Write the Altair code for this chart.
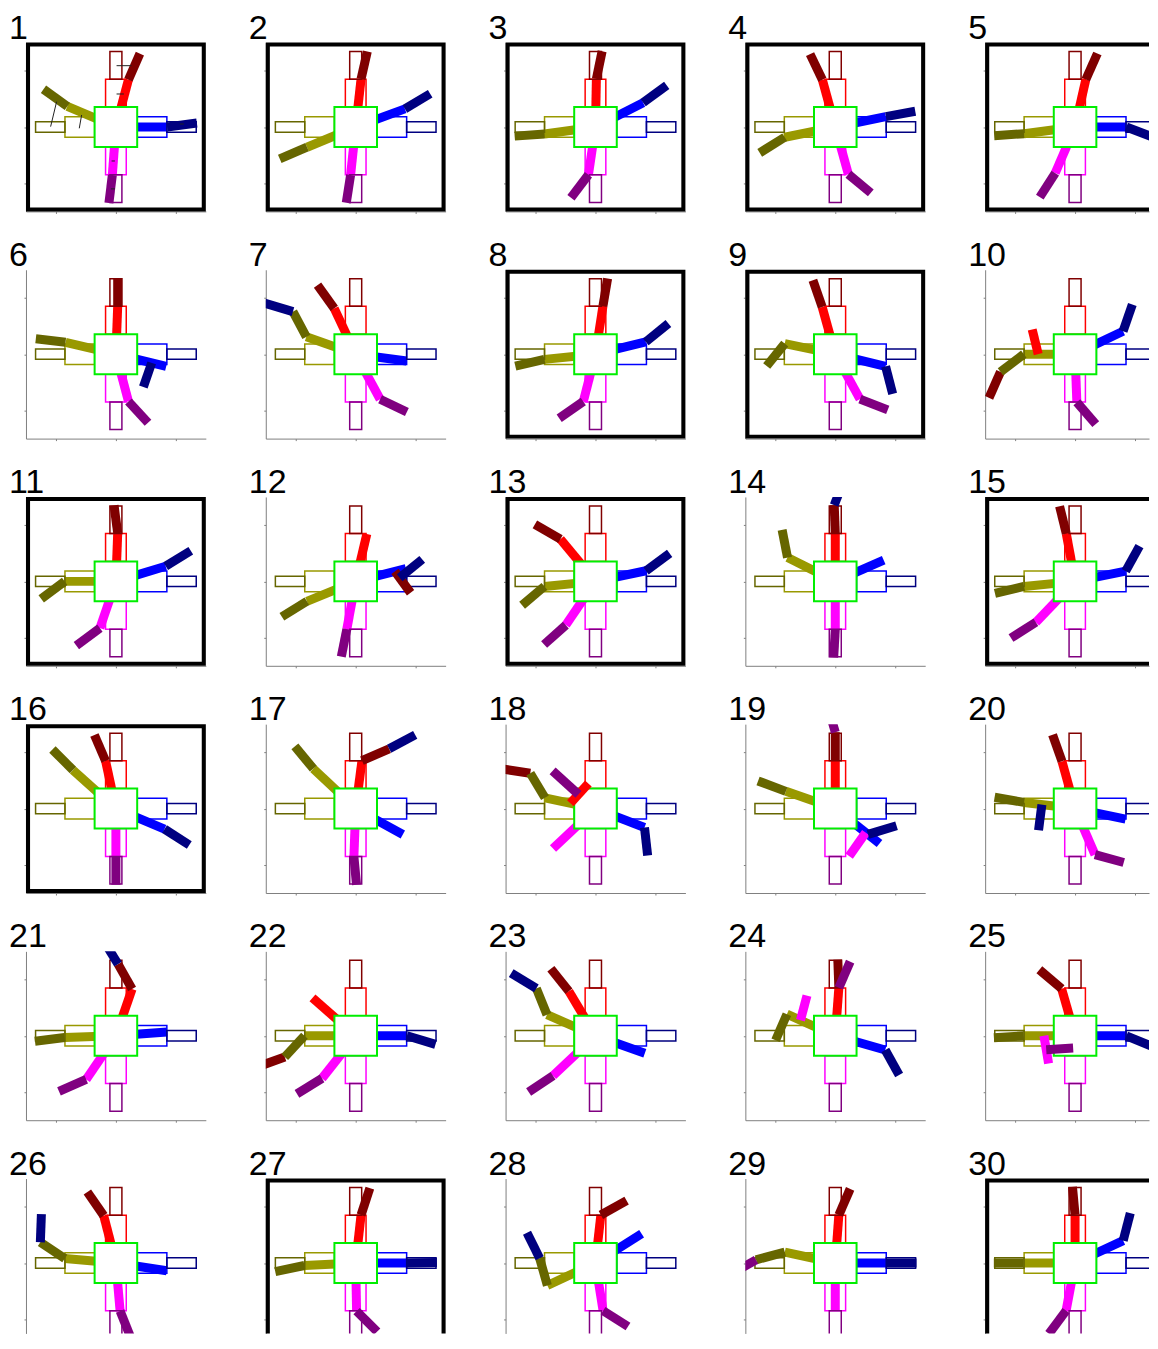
import math
import altair as alt
import pandas as pd

PANELS = list(range(1, 31))
FRAMED = [1, 2, 3, 4, 5, 8, 9, 11, 13, 15, 16, 27, 30]

# Segment angles in degrees (0 = right, 90 = up), one value per panel 1..30
RED_INNER = [76, 84, 89, 104.4, 78, 88, 113.8, 81.7, 104.6, 102.8,
             88, 77.6, 128, 90, 99.8, 101.5, 83, 49.4, 90, 104.6,
             72, 137, 119.3, 86, 105, 103.6, 84, 84, 86, 90]
RED_OUTER = [67.6, 78, 79, 114.2, 67.3, 90, 123.8, 81, 108, 247.5,
             97, -55.4, 148.4, 92, 102.9, 111.9, 25, 170.7, 90, 108.3,
             117.9, 201, 126.9, 92, 137.9, 123, 73, 30.8, 67.9, 95]
BLUE_INNER = [0, 21.4, 28.5, 12.3, 0, -14.5, -8.2, 14.6, -14.6, 26.9,
              18, 15.1, 12.6, 25.1, 12.2, -24.2, -30.4, -22.3, -40, -12.6,
              4.5, 0, -20.6, -16.9, 0, -9.3, 0, 34, 0, 26.4]
BLUE_OUTER = [8, 32.5, 38, 11, -22, -108, 162.3, 41, -76.3, 72,
              33.2, 41, 38, 70, 62.5, -34.3, 29.6, -84, 18, -97,
              120, -17.7, 147, -62.4, -23.8, 88, 1, 115, 0, 76.3]
MAGENTA_INNER = [-94, -95.7, -97.9, -75.4, -112, -76, -63, -103.6, -62.7, -88,
                 -107.8, -99.9, -122.5, -90, -132, -90, -92, -135, -123.5, -67.9,
                 -122.6, -126.6, -135, 76, -81, -85.3, -89, -81.5, -90, -100]
MAGENTA_OUTER = [-96.5, -98.3, -125.6, -41.6, -121, -49.3, -26.9, -143.5, -22.3, -50.9,
                 -141.8, -100.6, -136.4, -93, -146, -90, -85, 136, 105, -16.3,
                 -155, -146.7, -144.4, 67.9, 4, -69.4, -46.7, -33.8, 210.7, -124.9]
OLIVE_INNER = [155.6, 203.9, 188.3, 192.2, 188, 165.9, 159.4, 186.2, 167.4, 180,
               180, 203.5, 186, 152, 186, 136.3, 134.9, 167.2, 159.6, 172.7,
               182, 180, 155.2, 154.6, 180, 174.7, 183, 206.5, 167, 180]
OLIVE_OUTER = [142.7, 204.6, 184.4, 213.6, 184, 172.8, 116.6, 194, 233, 218.9,
               218.6, 213.3, 222, 100.4, 194.5, 133.2, 128, 119.4, 158.3, 169.3,
               187.6, 229, 110.8, 247.8, 184, 144.6, 192.7, 104.9, 196.2, 180]

# Segments hanging somewhere else than on their own limb:
# (panel, segment) -> (parent segment, fraction along parent, length)
ATTACH = {
    (6, 'B2'): ('B1', 0.5, 0.45),
    (7, 'B2'): ('O2', 1.0, 0.5),
    (10, 'R1'): ('O1', 0.52, 0.45),
    (10, 'R2'): ('O2', 1.0, 0.5),
    (12, 'R2'): ('B1', 0.62, 0.46),
    (12, 'B2'): ('R2', 0.3, 0.5),
    (14, 'B2'): ('R2', 1.0, 0.5),
    (17, 'B2'): ('R2', 1.0, 0.5),
    (18, 'R1'): ('O1', 0.13, 0.46),
    (18, 'R2'): ('O2', 1.0, 0.5),
    (18, 'M2'): ('R1', 0.45, 0.6),
    (19, 'B2'): ('B1', 0.5, 0.5),
    (19, 'M1'): ('B1', 0.4, 0.5),
    (19, 'M2'): ('R2', 1.0, 0.5),
    (20, 'B2'): ('O1', 0.4, 0.46),
    (21, 'B2'): ('R2', 1.0, 0.5),
    (22, 'R2'): ('O2', 1.0, 0.5),
    (23, 'B2'): ('O2', 1.0, 0.5),
    (24, 'M1'): ('O1', 0.5, 0.45),
    (24, 'M2'): ('R1', 1.0, 0.5),
    (25, 'M1'): ('O1', 0.33, 0.5),
    (25, 'M2'): ('M1', 0.5, 0.45),
    (26, 'B2'): ('O2', 1.0, 0.5),
    (28, 'B2'): ('O2', 1.0, 0.5),
    (29, 'M2'): ('O2', 1.0, 0.5),
}

# thin black marks seen in panel 1: (x1, y1, x2, y2)
PANEL1_MARKS = [(-1.089, 0.006, -0.989, 0.45), (-0.611, -0.024, -0.572, 0.213),
                (0.011, 0.586, 0.133, 0.586), (0.011, 1.089, 0.261, 1.089),
                (-0.072, -0.604, -0.017, -0.604), (-0.083, -1.1, -0.017, -1.1),
                (1.067, 0.053, 1.133, 0.053)]

ANGLES = {'R1': RED_INNER, 'R2': RED_OUTER, 'B1': BLUE_INNER, 'B2': BLUE_OUTER,
          'M1': MAGENTA_INNER, 'M2': MAGENTA_OUTER, 'O1': OLIVE_INNER, 'O2': OLIVE_OUTER}
SEGS = ['R1', 'R2', 'O1', 'O2', 'M1', 'M2', 'B1', 'B2']
SEG_COLOR = {'R1': '#ff0000', 'R2': '#800000', 'B1': '#0000ff', 'B2': '#000080',
             'M1': '#ff00ff', 'M2': '#800080', 'O1': '#999900', 'O2': '#666600'}

HALF = 0.355      # half side of the body square
SEG = 0.5         # segment length
MID, TIP = 0.85, 1.34
VIN, HIN = 0.1725, 0.183
VOUT, HOUT = 0.1, 0.092
FR = 1.472

REST = [
    ('#ff0000', -VIN, VIN, HALF, MID), ('#800000', -VOUT, VOUT, MID, TIP),
    ('#0000ff', HALF, MID, -HIN, HIN), ('#000080', MID, TIP, -HOUT, HOUT),
    ('#ff00ff', -VIN, VIN, -MID, -HALF), ('#800080', -VOUT, VOUT, -TIP, -MID),
    ('#999900', -MID, -HALF, -HIN, HIN), ('#666600', -TIP, -MID, -HOUT, HOUT),
]


def geometry(p):
    cache = {}

    def g(name):
        if name in cache:
            return cache[name]
        a = math.radians(ANGLES[name][p - 1])
        c, s = math.cos(a), math.sin(a)
        default_parent = 'c' if name[1] == '1' else name[0] + '1'
        parent, t, length = ATTACH.get((p, name), (default_parent, 1.0, SEG))
        if parent == 'c':
            r0 = HALF / max(abs(c), abs(s))
            start = (r0 * c, r0 * s)
            dstart = (0.0, 0.0)
            over = False
        else:
            ps, pe = g(parent)[:2]
            start = (ps[0] + t * (pe[0] - ps[0]), ps[1] + t * (pe[1] - ps[1]))
            dstart = start
            over = True
        end = (start[0] + length * c, start[1] + length * s)
        cache[name] = (start, end, dstart, over)
        return cache[name]

    return {n: g(n) for n in SEGS}


rows = []
for p in PANELS:
    geo = geometry(p)
    for n in SEGS:
        start, end, dstart, over = geo[n]
        rows.append(dict(panel=p, kind='over' if over else 'under', x=dstart[0], y=dstart[1],
                         x2=end[0], y2=end[1], color=SEG_COLOR[n]))
    for col, x1, x2, y1, y2 in REST:
        rows.append(dict(panel=p, kind='rest', x=x1, x2=x2, y=y1, y2=y2, color=col))
    rows.append(dict(panel=p, kind='square', x=-HALF, x2=HALF, y=-HALF, y2=HALF))
    if p in FRAMED:
        rows.append(dict(panel=p, kind='frame', x=-FR, x2=FR, y=-FR, y2=FR))
    rows.append(dict(panel=p, kind='label', label=str(p)))
for x1, y1, x2, y2 in PANEL1_MARKS:
    rows.append(dict(panel=1, kind='thin', x=x1, y=y1, x2=x2, y2=y2))

df = pd.DataFrame(rows)

PXX = 60.0            # pixels per unit, x
PXY = 169.0 / 3.0     # pixels per unit, y
W, H = 180, 169
W_LAST, H_LAST = 164, 155   # the picture cuts the last column and the last row


def panel_chart(p):
    r, c = divmod(p - 1, 5)
    w = W if c < 4 else W_LAST
    h = H if r < 5 else H_LAST
    xs = alt.Scale(domain=[-1.5, -1.5 + w / PXX], nice=False, zero=False)
    ys = alt.Scale(domain=[1.5 - h / PXY, 1.5], nice=False, zero=False)
    ax = alt.Axis(values=[-1, 0, 1], labels=False, title=None, grid=False, tickSize=2,
                  domainColor='#808080', tickColor='#808080', domainWidth=1, tickWidth=1)
    X = alt.X('x:Q', scale=xs, axis=ax if r < 5 else None)
    Y = alt.Y('y:Q', scale=ys, axis=ax)
    X2 = alt.X2('x2:Q')
    Y2 = alt.Y2('y2:Q')
    COLOR = alt.Color('color:N', scale=None)
    base = alt.Chart()
    under = base.mark_rule(strokeWidth=9, clip=True).encode(x=X, y=Y, x2=X2, y2=Y2, color=COLOR) \
        .transform_filter(alt.datum.kind == 'under')
    rest = base.mark_rect(filled=False, strokeWidth=1.5, clip=True).encode(x=X, y=Y, x2=X2, y2=Y2, color=COLOR) \
        .transform_filter(alt.datum.kind == 'rest')
    square = base.mark_rect(fill='white', stroke='#00ee00', strokeWidth=2, clip=True) \
        .encode(x=X, y=Y, x2=X2, y2=Y2).transform_filter(alt.datum.kind == 'square')
    over = base.mark_rule(strokeWidth=9, clip=True).encode(x=X, y=Y, x2=X2, y2=Y2, color=COLOR) \
        .transform_filter(alt.datum.kind == 'over')
    thin = base.mark_rule(strokeWidth=1, color='#222222', clip=True).encode(x=X, y=Y, x2=X2, y2=Y2) \
        .transform_filter(alt.datum.kind == 'thin')
    frame = base.mark_rect(filled=False, color='black', strokeWidth=4.8, clip=True) \
        .encode(x=X, y=Y, x2=X2, y2=Y2).transform_filter(alt.datum.kind == 'frame')
    label = base.mark_text(align='left', baseline='top', fontSize=34, font='Liberation Sans',
                           color='black').encode(x=alt.value(-17), y=alt.value(-31), text='label:N') \
        .transform_filter(alt.datum.kind == 'label')
    sub = df[df.panel == p]
    return alt.layer(under, rest, square, over, thin, frame, label, data=sub).properties(width=w, height=h)


chart = alt.concat(
    *[panel_chart(p) for p in PANELS],
    columns=5,
    spacing={'row': 58.4, 'column': 60},
    bounds='flush',
    align='each',
).resolve_scale(
    x='independent', y='independent'
).properties(
    padding={'left': 0, 'top': 2, 'right': 0, 'bottom': 0}
).configure_view(stroke='transparent')

chart.save('out.html', embed_options={'renderer': 'svg', 'actions': False})
